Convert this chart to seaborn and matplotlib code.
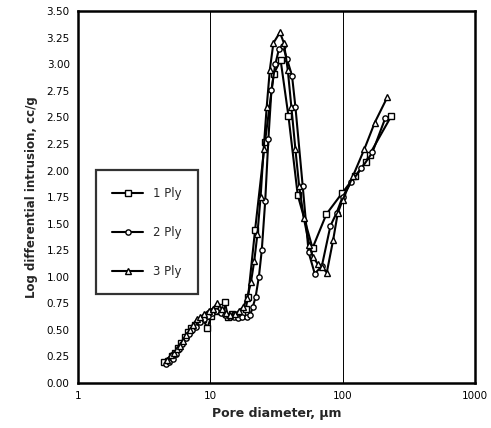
import matplotlib
matplotlib.use("Agg")
import matplotlib.pyplot as plt
import matplotlib.ticker as mticker
from matplotlib.lines import Line2D
import seaborn as sns
import pandas as pd

# ---- data ----
d1 = [4.5, 4.8, 5.1, 5.4, 5.7, 6.0, 6.4, 6.8, 7.2, 7.7, 8.2, 8.8, 9.5, 10.2, 11.0,
      12.0, 12.9, 13.6, 14.5, 15.5, 16.5, 17.5, 18.5, 19.3, 21.8, 25.9, 30.2, 34.0,
      39.0, 45.8, 59.3, 75.5, 99.6, 125, 150, 160, 233]
y1 = [0.20, 0.21, 0.25, 0.28, 0.33, 0.38, 0.43, 0.48, 0.52, 0.55, 0.58, 0.60, 0.52,
      0.63, 0.68, 0.72, 0.76, 0.62, 0.65, 0.64, 0.63, 0.66, 0.70, 0.81, 1.44, 2.27,
      2.91, 3.04, 2.51, 1.77, 1.27, 1.59, 1.79, 1.95, 2.08, 2.15, 2.51]

d2 = [4.6, 4.9, 5.2, 5.5, 5.8, 6.1, 6.5, 6.9, 7.3, 7.8, 8.3, 8.9, 9.6, 10.3, 11.1,
      12.0, 13.0, 14.0, 15.0, 16.2, 17.5, 18.8, 20.0, 21.0, 22.0, 23.3, 24.5, 26.0,
      27.5, 29.0, 31.0, 33.0, 35.4, 38.0, 41.5, 44.0, 50.0, 55.4, 61.6, 69.7, 81.0,
      90.0, 100, 116, 139, 168, 210]
y2 = [0.18, 0.20, 0.23, 0.27, 0.32, 0.37, 0.42, 0.46, 0.50, 0.53, 0.57, 0.60, 0.63,
      0.66, 0.68, 0.66, 0.64, 0.62, 0.62, 0.61, 0.62, 0.62, 0.64, 0.72, 0.81, 1.00,
      1.25, 1.71, 2.30, 2.76, 3.00, 3.14, 3.17, 3.05, 2.89, 2.60, 1.85, 1.23, 1.03,
      1.10, 1.48, 1.60, 1.75, 1.89, 2.02, 2.17, 2.49]

d3 = [4.7, 5.0, 5.3, 5.6, 5.9, 6.2, 6.6, 7.0, 7.4, 7.9, 8.4, 9.0, 9.7, 10.4, 11.3,
      12.2, 13.2, 14.2, 15.3, 16.5, 17.8, 19.0, 20.3, 21.5, 22.7, 24.0, 25.3, 26.7,
      28.2, 30.0, 33.6, 36.0, 38.5, 41.0, 44.0, 47.0, 51.0, 56.0, 59.4, 65.0, 70.0,
      76.0, 85.0, 92.0, 100, 120, 146, 175, 218]
y3 = [0.22, 0.26, 0.28, 0.32, 0.35, 0.40, 0.45, 0.50, 0.55, 0.60, 0.62, 0.65, 0.68,
      0.70, 0.75, 0.70, 0.66, 0.64, 0.65, 0.68, 0.72, 0.80, 0.95, 1.15, 1.40, 1.75,
      2.20, 2.60, 2.95, 3.20, 3.30, 3.20, 2.95, 2.60, 2.20, 1.85, 1.55, 1.30, 1.19,
      1.12, 1.09, 1.04, 1.35, 1.60, 1.72, 1.95, 2.20, 2.45, 2.69]

labels = ["1 Ply", "2 Ply", "3 Ply"]
markers = ["s", "o", "^"]
msizes = [5, 3.8, 5]

yticks = [0.00, 0.25, 0.50, 0.75, 1.00, 1.25, 1.50, 1.75, 2.00, 2.25, 2.50, 2.75,
          3.00, 3.25, 3.50]
xticks = [1, 10, 100, 1000]

sns.set_style("white")
plt.rcParams["font.family"] = ["DejaVu Sans"]

fig = plt.figure(figsize=(4.91, 4.28), dpi=100)
ax = fig.add_axes([0.159, 0.105, 0.808, 0.869])

series = [(d1, y1), (d2, y2), (d3, y3)]
handles = []
for (dx, dy), lab, mk, ms in zip(series, labels, markers, msizes):
    df = pd.DataFrame({"d": dx, "v": dy})
    sns.lineplot(data=df, x="d", y="v", ax=ax, sort=False, color="black",
                 linewidth=1.5, marker=mk, markersize=ms, markerfacecolor="white",
                 markeredgecolor="black", markeredgewidth=1.0, legend=False)
    handles.append(Line2D([], [], color="black", linewidth=1.5, marker=mk,
                          markersize=ms, markerfacecolor="white",
                          markeredgecolor="black", markeredgewidth=1.0, label=lab))

ax.set_xscale("log")
ax.set_xlim(1, 1000)
ax.set_ylim(0, 3.5)
ax.set_xticks(xticks)
ax.xaxis.set_major_formatter(mticker.FuncFormatter(lambda v, p: f"{v:g}"))
ax.xaxis.set_minor_locator(mticker.NullLocator())
ax.set_yticks(yticks)
ax.yaxis.set_major_formatter(mticker.FormatStrFormatter("%.2f"))

for xv in [10, 100]:
    ax.axvline(xv, color="black", linewidth=0.7, zorder=0)

for s in ax.spines.values():
    s.set_visible(True)
    s.set_color("black")
    s.set_linewidth(1.8)

ax.tick_params(axis="both", direction="in", length=3, width=0.8, labelsize=7.5,
               colors="black", pad=6)
ax.tick_params(axis="x", length=0)

ax.set_xlabel("Pore diameter, \u03bcm", fontsize=9, fontweight="bold")
ax.set_ylabel("Log differential intrusion, cc/g", fontsize=8.5, labelpad=6,
              fontweight="bold")

leg = ax.legend(handles=handles, loc="upper left", bbox_to_anchor=(0.03, 0.588),
                frameon=True, fancybox=False, labelspacing=2.2, handlelength=2.6,
                borderpad=1.4, fontsize=8.5, edgecolor="black")
leg.get_frame().set_linewidth(1.6)

fig.savefig("out.png", dpi=100)
